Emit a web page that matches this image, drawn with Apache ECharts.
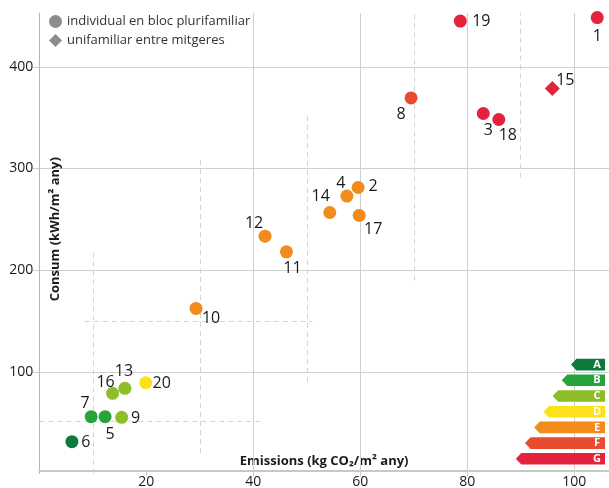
<!DOCTYPE html>
<html>
<head>
<meta charset="utf-8">
<script src="https://cdn.jsdelivr.net/npm/echarts@6/dist/echarts.min.js"></script>
<style>
  html, body { margin: 0; padding: 0; background: #fff; }
  #chart { width: 609px; height: 488px; }
</style>
</head>
<body>
<div id="chart"></div>
<script>
// dades dels habitatges
const ids       = ['1','2','3','4','5','6','7','8','9','10','11','12','13','14','15','16','17','18','19','20'];
const emissions = [104.3, 59.6, 83.0, 57.5, 12.3, 6.1, 9.7, 69.5, 15.4, 29.3, 46.2, 42.2, 16.0, 54.3, 95.9, 13.7, 59.8, 85.9, 78.7, 19.9];
const consum    = [448.5, 281.3, 354.1, 272.9, 55.8, 31.2, 55.8, 369.4, 55.2, 162.3, 218.0, 233.4, 83.7, 256.7, 378.7, 78.8, 253.8, 348.2, 445.1, 89.2];
const classes   = ['G','E','G','E','B','A','B','F','C','E','E','E','C','E','G','C','E','G','G','D'];
const tipus      = ['bloc','bloc','bloc','bloc','bloc','bloc','bloc','bloc','bloc','bloc','bloc','bloc','bloc','bloc','uni','bloc','bloc','bloc','bloc','bloc'];
const xGrid     = [40, 60, 80, 100];
const energyClasses = ['A','B','C','D','E','F','G'];
const legendNames = { bloc: 'individual en bloc plurifamiliar', uni: 'unifamiliar entre mitgeres' };

// límits de les classes (línies discontínues)
const classLines = [
  [[10, 0], [10, 217]],
  [[30, 20], [30, 310]],
  [[50, 90], [50, 355]],
  [[70, 190], [70, 453]],
  [[90, 291], [90, 453]],
  [[8.5, 150], [51, 150]],
  [[0, 51], [41.6, 51]]
];

const classColors = {
  A: '#0b7a3a', B: '#27a33b', C: '#8dbd28', D: '#fde11b',
  E: '#f28a1c', F: '#e84b30', G: '#e4223e'
};

// posició de cada etiqueta respecte al punt
const labelOffsets = {
  '1': [0, 19], '2': [15, -1], '3': [5, 17], '4': [-6, -13], '5': [5, 18],
  '6': [14, 1], '7': [-6, -13], '8': [-10, 16], '9': [14, 1], '10': [15, 10],
  '11': [6, 17], '12': [-11, -13], '13': [-1, -17], '14': [-9, -16], '15': [13, -8],
  '16': [-7, -11], '17': [14, 14], '18': [9, 16], '19': [21, 0], '20': [16, 1]
};

const FONT = '"Open Sans", "Noto Sans", sans-serif';

function pointsOf(kind) {
  const out = [];
  ids.forEach((id, i) => {
    if (tipus[i] !== kind) return;
    out.push({
      name: id,
      value: [emissions[i], consum[i]],
      itemStyle: { color: classColors[classes[i]] },
      label: { offset: labelOffsets[id] }
    });
  });
  return out;
}

const labelStyle = {
  show: true,
  position: 'inside',
  formatter: p => p.name,
  color: '#1a1a1a',
  fontSize: 16,
  fontFamily: FONT,
  align: 'center',
  verticalAlign: 'middle'
};

// etiquetes energètiques
const graphics = [];
energyClasses.forEach((c, i) => {
  const cy = 364.6 + i * 15.7, h = 11.6, right = 605, tip = 571 - i * 9.2;
  graphics.push({
    type: 'polygon',
    shape: { points: [[tip, cy], [tip + 5.5, cy - h / 2], [right, cy - h / 2], [right, cy + h / 2], [tip + 5.5, cy + h / 2]] },
    style: { fill: classColors[c] },
    z: 10
  });
  graphics.push({
    type: 'text',
    x: 597, y: cy,
    style: { text: c, fill: '#fff', font: 'bold 11px ' + FONT, textAlign: 'center', textVerticalAlign: 'middle' },
    z: 11
  });
});

let myChart = echarts.init(document.getElementById('chart'));
myChart.setOption({
  animation: false,
  textStyle: { fontFamily: FONT },
  grid: { left: 39.3, right: 0, top: 13, bottom: 14.6, containLabel: false, outerBoundsMode: 'none' },
  legend: {
    orient: 'vertical',
    left: 44, top: 10,
    itemWidth: 13, itemHeight: 13, itemGap: 6,
    textStyle: { fontSize: 13, color: '#333', fontFamily: FONT },
    data: [
      { name: legendNames.bloc, icon: 'circle' },
      { name: legendNames.uni, icon: 'diamond' }
    ]
  },
  xAxis: {
    type: 'value',
    min: 0, max: 106.5, interval: 20,
    offset: -3,
    name: 'Emissions (kg CO₂/m² any)',
    nameLocation: 'middle',
    nameGap: -16,
    nameMoveOverlap: false,
    nameTextStyle: { fontWeight: 'bold', fontSize: 13, color: '#1a1a1a', fontFamily: FONT },
    axisLine: { lineStyle: { color: '#c8c8c8', width: 2 } },
    axisTick: { show: true, length: 6, lineStyle: { color: '#c8c8c8' } },
    axisLabel: { showMinLabel: false, showMaxLabel: false, margin: 5, fontSize: 14, color: '#1a1a1a' },
    splitLine: { show: false }
  },
  yAxis: {
    type: 'value',
    min: 0, max: 453, interval: 100,
    name: 'Consum (kWh/m² any)',
    nameLocation: 'middle',
    nameRotate: 90,
    nameGap: -22,
    nameMoveOverlap: false,
    nameTextStyle: { fontWeight: 'bold', fontSize: 13, color: '#1a1a1a', fontFamily: FONT, padding: [0, 0, 0, 28] },
    axisLine: { lineStyle: { color: '#b4b4b4', width: 1 } },
    axisTick: { show: true, length: 7, lineStyle: { color: '#cfcfcf' } },
    axisLabel: { showMinLabel: false, showMaxLabel: false, margin: 6, fontSize: 14, color: '#1a1a1a' },
    splitLine: { show: true, showMinLine: false, showMaxLine: false, lineStyle: { color: '#cfcfcf', width: 1 } }
  },
  graphic: graphics,
  series: [
    {
      name: 'grid',
      type: 'line',
      data: [],
      z: 1,
      markLine: {
        silent: true,
        symbol: 'none',
        label: { show: false },
        animation: false,
        data: xGrid.map(v => ({ xAxis: v, lineStyle: { color: '#cfcfcf', width: 1, type: 'solid' } }))
          .concat(classLines.map(l => [
            { coord: l[0], lineStyle: { color: '#d4d4d4', width: 1, type: [5, 4] } },
            { coord: l[1] }
          ]))
      }
    },
    {
      name: legendNames.bloc,
      type: 'scatter',
      symbol: 'circle',
      symbolSize: 13,
      z: 5,
      itemStyle: { color: '#8c8c8c', opacity: 1 },
      label: labelStyle,
      data: pointsOf('bloc')
    },
    {
      name: legendNames.uni,
      type: 'scatter',
      symbol: 'diamond',
      symbolSize: 15,
      z: 5,
      itemStyle: { color: '#8c8c8c', opacity: 1 },
      label: labelStyle,
      data: pointsOf('uni')
    }
  ]
});
</script>
</body>
</html>
